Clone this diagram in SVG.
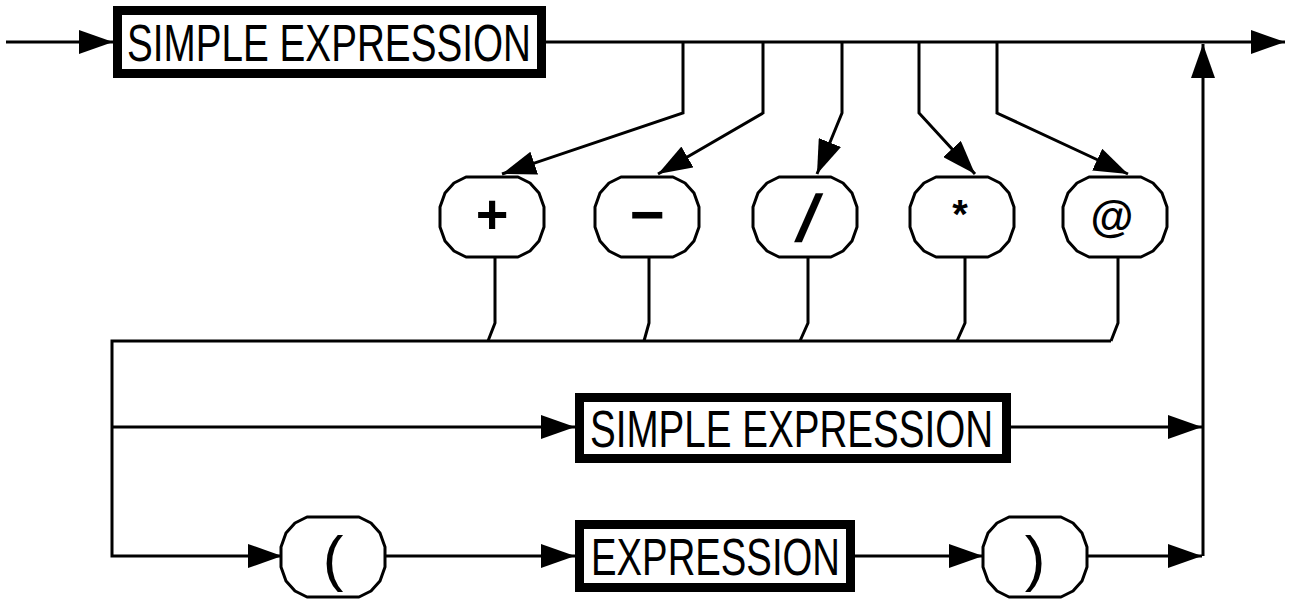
<svg xmlns="http://www.w3.org/2000/svg" width="1293" height="601" viewBox="0 0 1293 601">
<style>
.ln{fill:none;stroke:#000;stroke-width:3;stroke-linejoin:miter}
.box{fill:#fff;stroke:#000;stroke-width:9}
.ov{fill:#fff;stroke:#000;stroke-width:3;stroke-linejoin:round}
.lbl{font-family:"Liberation Sans Narrow","Liberation Sans",Arial,sans-serif;font-size:52px;fill:#000}
.op{font-family:"Liberation Sans",Arial,sans-serif;fill:#000;text-anchor:middle}
</style>
<defs>
<marker id="ah" markerWidth="34" markerHeight="24" refX="34" refY="12" orient="auto" markerUnits="userSpaceOnUse"><path d="M0,0 L34,12 L0,24 z" fill="#000"/></marker>
<polygon id="ovs" points="-26,-40 26,-40 38,-34 47,-24 52,-10 52,10 47,24 38,34 26,40 -26,40 -38,34 -47,24 -52,10 -52,-10 -47,-24 -38,-34"/>
</defs>
<g id="connectors">
<line class="ln" x1="6" y1="42" x2="113" y2="42" marker-end="url(#ah)"/>
<line class="ln" x1="546" y1="42" x2="1285" y2="42" marker-end="url(#ah)"/>
<polyline class="ln" points="683,42 683,113 502,174" marker-end="url(#ah)"/>
<polyline class="ln" points="763,42 763,113 658,174" marker-end="url(#ah)"/>
<polyline class="ln" points="842,42 842,113 817,174" marker-end="url(#ah)"/>
<polyline class="ln" points="919,42 919,113 975,174" marker-end="url(#ah)"/>
<polyline class="ln" points="997,42 997,113 1128,174" marker-end="url(#ah)"/>
<polyline class="ln" points="495,257 495,323 488,341"/>
<polyline class="ln" points="649,257 649,323 644,341"/>
<polyline class="ln" points="808,257 808,323 800,341"/>
<polyline class="ln" points="965,257 965,323 957,341"/>
<polyline class="ln" points="1118,257 1118,323 1111,341"/>
<polyline class="ln" points="1111,341 112,341 112,556 282,556" marker-end="url(#ah)"/>
<line class="ln" x1="112" y1="427" x2="575" y2="427" marker-end="url(#ah)"/>
<line class="ln" x1="385" y1="556" x2="575" y2="556" marker-end="url(#ah)"/>
<line class="ln" x1="855" y1="556" x2="983" y2="556" marker-end="url(#ah)"/>
<line class="ln" x1="1011" y1="427" x2="1202" y2="427" marker-end="url(#ah)"/>
<line class="ln" x1="1087" y1="556" x2="1202" y2="556" marker-end="url(#ah)"/>
<line class="ln" x1="1203" y1="556" x2="1203" y2="44" marker-end="url(#ah)"/>
</g>
<g id="simple-expression-1">
<rect class="box" x="117.5" y="10.5" width="424" height="63"/>
<text class="lbl" x="127" y="61" textLength="404" lengthAdjust="spacingAndGlyphs">SIMPLE EXPRESSION</text>
</g>
<g id="op-plus">
<use href="#ovs" class="ov" x="492" y="217"/>
<text class="op" x="492" y="233" font-size="56" font-weight="bold">+</text>
</g>
<g id="op-minus">
<use href="#ovs" class="ov" x="647" y="217"/>
<text class="op" x="647" y="235" font-size="60" font-weight="bold">−</text>
</g>
<g id="op-slash">
<use href="#ovs" class="ov" x="805" y="217"/>
<text class="op" x="807" y="241" font-size="66" font-weight="bold" transform="skewX(-14) translate(56,0)">/</text>
</g>
<g id="op-star">
<use href="#ovs" class="ov" x="962" y="217"/>
<text class="op" x="960" y="228" font-size="40" font-weight="bold">*</text>
</g>
<g id="op-at">
<use href="#ovs" class="ov" x="1115" y="217"/>
<text class="op" x="1112" y="232" font-size="44" font-weight="bold">@</text>
</g>
<g id="simple-expression-2">
<rect class="box" x="579.5" y="397.5" width="427" height="61"/>
<text class="lbl" x="590" y="447" textLength="403" lengthAdjust="spacingAndGlyphs">SIMPLE EXPRESSION</text>
</g>
<g id="lparen">
<use href="#ovs" class="ov" x="333" y="557"/>
<text class="op" x="333" y="579" font-size="62">(</text>
</g>
<g id="expression">
<rect class="box" x="579.5" y="524.5" width="271" height="63"/>
<text class="lbl" x="591" y="575" textLength="249" lengthAdjust="spacingAndGlyphs">EXPRESSION</text>
</g>
<g id="rparen">
<use href="#ovs" class="ov" x="1035" y="557"/>
<text class="op" x="1035" y="579" font-size="62">)</text>
</g>
</svg>
